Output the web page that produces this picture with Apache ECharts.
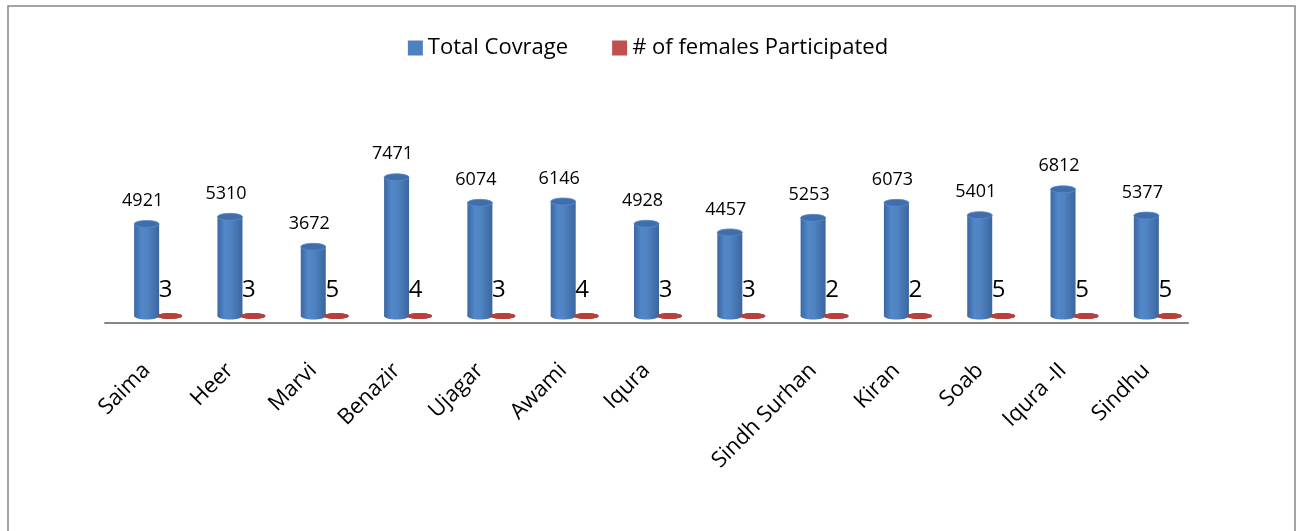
<!DOCTYPE html>
<html>
<head>
<meta charset="utf-8">
<script src="https://cdn.jsdelivr.net/npm/echarts@6/dist/echarts.min.js"></script>
<style>
html,body{margin:0;padding:0;background:#fff;}
#chart{width:1296px;height:531px;}
</style>
</head>
<body>
<div id="chart"></div>
<script>
const categories = ["Saima","Heer","Marvi","Benazir","Ujagar","Awami","Iqura","","Sindh Surhan","Kiran","Soab","Iqura -II","Sindhu"];
const totalCoverage = [4921,5310,3672,7471,6074,6146,4928,4457,5253,6073,5401,6812,5377];
const femalesParticipated = [3,3,5,4,3,4,3,3,2,2,5,5,5];
const seriesNames = ["Total Covrage", "# of females Participated"];

const FONT = "Open Sans";
const DEPTH = -9;     // 3D floor offset
const BW = 25;        // cylinder width
const EH = 7;         // ellipse height
const RED_SHIFT = 23; // red cylinder offset within group

const chart = echarts.init(document.getElementById('chart'), null, {renderer:'canvas'});

function blueItem(params, api) {
  const i = api.value(0), v = api.value(1);
  const top = api.coord([i, v]);
  const base = api.coord([i, 0]);
  const cx = top[0];
  const yt = top[1] + DEPTH;
  const yb = base[1] + DEPTH + 2;
  const grad = new echarts.graphic.LinearGradient(0,0,1,0,[
    {offset:0, color:'#3a67a3'},
    {offset:0.3, color:'#5288c9'},
    {offset:0.55, color:'#4f82c1'},
    {offset:1, color:'#3a66a0'}
  ]);
  return {
    type:'group',
    children:[
      {type:'ellipse', shape:{cx:cx, cy:yb, rx:BW/2, ry:EH/2}, style:{fill:grad}},
      {type:'rect', shape:{x:cx-BW/2, y:yt, width:BW, height:yb-yt}, style:{fill:grad}},
      {type:'ellipse', shape:{cx:cx, cy:yt, rx:BW/2, ry:EH/2}, style:{fill:'#3f6eab', stroke:'#5a8ccb', lineWidth:0.8}},
      {type:'text', style:{x:cx-4, y:yt-23, text:String(v), fill:'#000', font:'18px "'+FONT+'"', align:'center', verticalAlign:'middle'}}
    ]
  };
}

function redItem(params, api) {
  const i = api.value(0), v = api.value(1);
  const top = api.coord([i, v]);
  const base = api.coord([i, 0]);
  const cx = top[0] + RED_SHIFT;
  const yt = top[1] + DEPTH + 2;
  const yb = base[1] + DEPTH + 2;
  return {
    type:'group',
    children:[
      {type:'ellipse', shape:{cx:cx, cy:yb, rx:BW/2, ry:3}, style:{fill:'#a8322f'}},
      {type:'ellipse', shape:{cx:cx, cy:yt, rx:BW/2, ry:3}, style:{fill:'#b8403c'}},
      {type:'text', style:{x:cx-4, y:yb-26, text:String(v), fill:'#000', font:'24px "'+FONT+'"', align:'center', verticalAlign:'middle'}}
    ]
  };
}

const option = {
  animation:false,
  backgroundColor:'#fff',
  textStyle:{fontFamily:FONT},
  legend:{
    top:32, left:'center',
    itemWidth:15, itemHeight:15, itemGap:44,
    textStyle:{fontSize:22, color:'#000', fontFamily:FONT},
    data:[
      {name:seriesNames[0], icon:'rect', itemStyle:{color:'#4f81bd'}},
      {name:seriesNames[1], icon:'rect', itemStyle:{color:'#c0504d'}}
    ]
  },
  grid:{left:105, right:108, top:176.6, bottom:208},
  xAxis:{
    type:'category', data:categories,
    axisLine:{show:true, lineStyle:{color:'#868686', width:2}},
    axisTick:{show:false},
    axisLabel:{interval:0, rotate:45, margin:44, fontSize:22, color:'#000', fontFamily:FONT}
  },
  yAxis:{type:'value', min:0, max:8000, show:false, splitLine:{show:false}},
  graphic:[
    {type:'rect', shape:{x:8, y:6, width:1287, height:600}, style:{fill:'none', stroke:'#868686', lineWidth:1.5}, z:-1}
  ],
  series:[
    {name:seriesNames[0], type:'custom', renderItem:blueItem, itemStyle:{color:'#4f81bd'},
     data:totalCoverage.map((v,i)=>[i,v]), encode:{x:0,y:1}},
    {name:seriesNames[1], type:'custom', renderItem:redItem, itemStyle:{color:'#c0504d'},
     data:femalesParticipated.map((v,i)=>[i,v]), encode:{x:0,y:1}}
  ]
};
chart.setOption(option);
</script>
</body>
</html>
